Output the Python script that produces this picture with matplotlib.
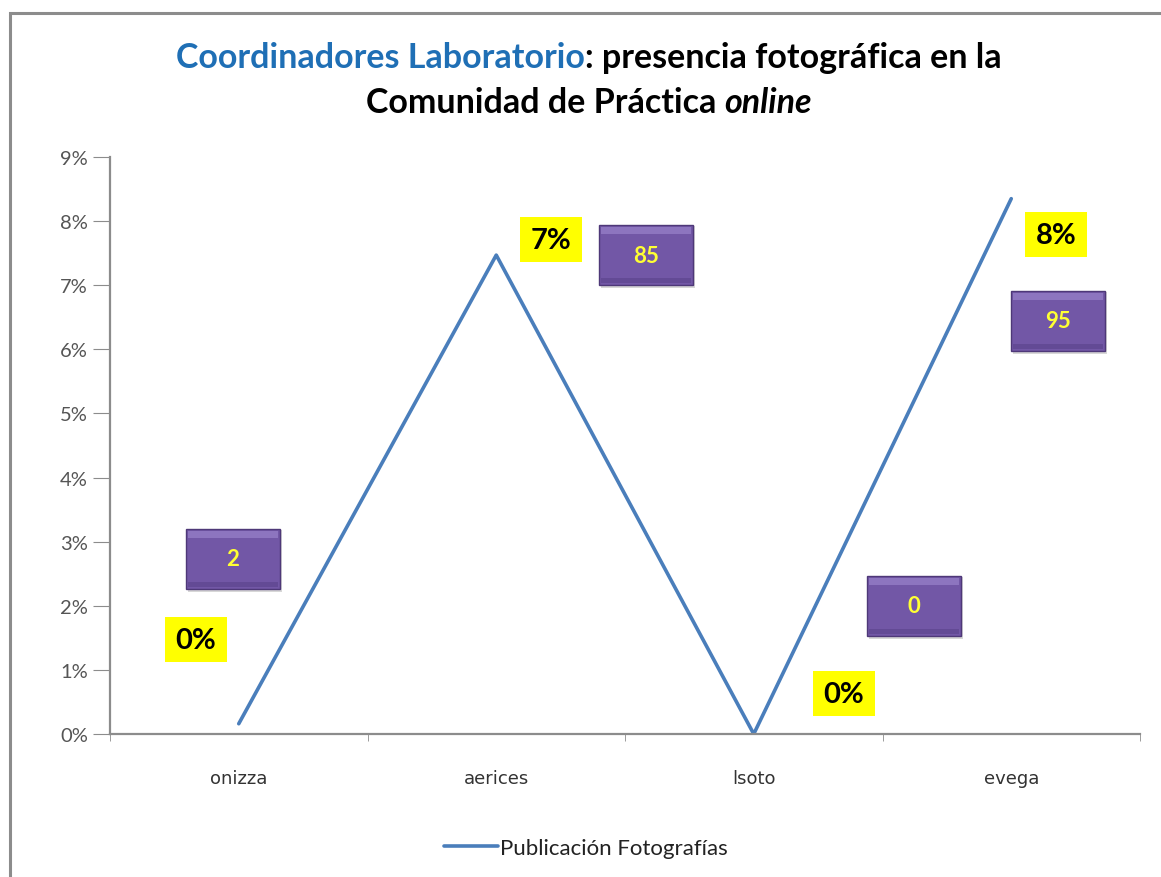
import matplotlib.pyplot as plt
from matplotlib.patches import Rectangle

plt.rcParams['font.family'] = ['Lato', 'DejaVu Sans']

categories = ['onizza', 'aerices', 'lsoto', 'evega']
pct = [0.16, 7.47, 0.0, 8.35]          # Publicación Fotografías, %
pct_labels = ['0%', '7%', '0%', '8%']
counts = ['2', '85', '0', '95']

# label offsets from each point, in pixels (dx, dy)
pct_offsets = [(-43, 84), (55, 15), (90, 40), (45, -36)]
count_offsets = [(-6, 165), (150, 0), (160, 128), (47, -122)]

fig = plt.figure(figsize=(11.61, 8.78), dpi=100)
fig.patch.set_facecolor('white')
W, H = 1161, 878

# outer chart frame
fig.patches.append(Rectangle((10 / W, -0.05), 1.1, (H - 14) / H + 0.05,
                             transform=fig.transFigure, fill=False,
                             edgecolor='#8c8c8c', linewidth=2.2))

ax = fig.add_axes([110 / W, 1 - 735 / H, 1030 / W, 577 / H])
x = range(len(categories))
ax.plot(x, pct, color='#4A7EBB', linewidth=2.6, solid_capstyle='round',
        label='Publicación Fotografías')
ax.set_xlim(-0.5, 3.5)
ax.set_ylim(0, 9)
ax.set_yticks(range(10))
ax.set_yticklabels([f'{i}%' for i in range(10)])
ax.set_xticks(list(x))
ax.set_xticklabels(categories, family='DejaVu Sans')
ax.set_xticks([-0.5, 0.5, 1.5, 2.5, 3.5], minor=True)
ax.tick_params(axis='x', which='major', length=0, pad=25, labelsize=13,
               labelcolor='#333333')
ax.tick_params(axis='x', which='minor', length=5, color='#8c8c8c', direction='out')
ax.tick_params(axis='y', length=12, color='#8c8c8c', labelsize=14.5,
               labelcolor='#555555', pad=4)
for s in ['top', 'right']:
    ax.spines[s].set_visible(False)
for s in ['left', 'bottom']:
    ax.spines[s].set_color('#8c8c8c')
    ax.spines[s].set_linewidth(1.6)

leg = ax.legend(loc='upper center', bbox_to_anchor=(0.462, -0.145), frameon=False,
                fontsize=16, handlelength=2.4, handletextpad=0.1)
for t in leg.get_texts():
    t.set_color('#222222')

# value labels
fig.canvas.draw()
for i in range(len(categories)):
    px, py = ax.transData.transform((i, pct[i]))
    dx, dy = pct_offsets[i]
    cx, cy = px + dx, py + dy
    fig.patches.append(Rectangle(((cx - 31) / W, (cy - 22) / H), 62 / W, 45 / H,
                                 transform=fig.transFigure, facecolor='#FFFF00',
                                 edgecolor='none', zorder=5))
    fig.text(cx / W, cy / H, pct_labels[i], ha='center', va='center',
             fontsize=21, fontweight='bold', color='black', zorder=6)

    dx, dy = count_offsets[i]
    cx, cy = px + dx, py + dy
    # shadow, body and bevel of the purple box
    fig.patches.append(Rectangle(((cx - 45) / W, (cy - 33) / H), 94 / W, 62 / H,
                                 transform=fig.transFigure, facecolor='#bdbdbd',
                                 edgecolor='none', alpha=0.6, zorder=4))
    fig.patches.append(Rectangle(((cx - 47) / W, (cy - 30) / H), 94 / W, 60 / H,
                                 transform=fig.transFigure, facecolor='#7257A6',
                                 edgecolor='#4e3878', linewidth=1.0, zorder=5))
    fig.patches.append(Rectangle(((cx - 45) / W, (cy + 21) / H), 90 / W, 7 / H,
                                 transform=fig.transFigure, facecolor='#a08ad0',
                                 edgecolor='none', alpha=0.6, zorder=5))
    fig.patches.append(Rectangle(((cx - 45) / W, (cy - 28) / H), 90 / W, 5 / H,
                                 transform=fig.transFigure, facecolor='#553e85',
                                 edgecolor='none', alpha=0.5, zorder=5))
    fig.text(cx / W, cy / H, counts[i], ha='center', va='center',
             fontsize=16, fontweight='bold', color='#FFFF33', zorder=6)


def text_line(parts, y, size):
    # draw coloured pieces of one title line, centred on the figure
    r = fig.canvas.get_renderer()
    widths = []
    for s, kw in parts:
        t = fig.text(0, 0, s, fontsize=size, **kw)
        widths.append(t.get_window_extent(r).width)
        t.remove()
    x0 = (1178 - sum(widths)) / 2
    for (s, kw), w in zip(parts, widths):
        fig.text(x0 / W, y, s, fontsize=size, va='center', **kw)
        x0 += w


text_line([('Coordinadores Laboratorio', dict(color='#1F6FB5', fontweight='bold')),
           (': presencia fotográfica en la', dict(color='black', fontweight='bold'))],
          1 - 58 / H, 24.5)
text_line([('Comunidad de Práctica ', dict(color='black', fontweight='bold')),
           ('online', dict(color='black', fontweight='bold', style='italic'))],
          1 - 103 / H, 24.5)

fig.savefig('out.png', dpi=100)
